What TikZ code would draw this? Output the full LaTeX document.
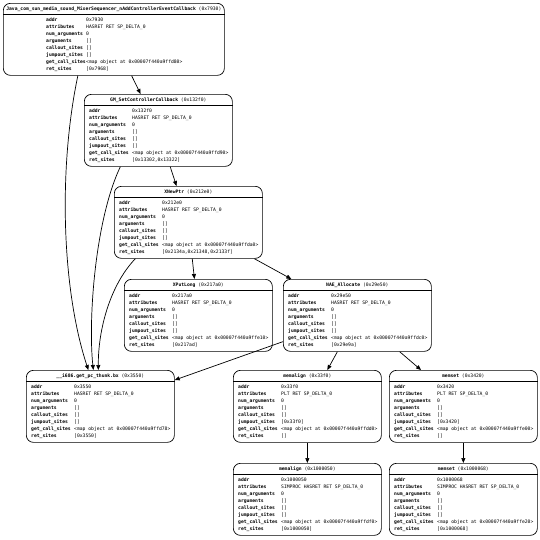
\documentclass[tikz,border=0pt]{standalone}
\usepackage{fontspec}
\setmonofont{DejaVu Sans Mono}
\usetikzlibrary{calc,arrows.meta}
\tikzset{
  fbox/.style={draw, line width=0.7pt, rounded corners=7pt, minimum height=72pt, inner sep=0pt},
  ftitle/.style={inner sep=0pt, font=\ttfamily\fontsize{4.7}{7}\selectfont},
  ftable/.style={inner sep=0pt, font=\ttfamily\fontsize{4.7}{7}\selectfont},
  fsep/.style={line width=0.6pt},
  call/.style={line width=0.7pt, -{Triangle[length=5pt,width=4pt]}},
}
\newcommand\lx{5}
\newcommand\lw{43pt}
\newcommand\funcbox[6]{%
  \node[fbox, minimum width=#4pt, anchor=north west] (#1) at (#2,#3) {};
  \node[ftitle] (#1-t) at ($(#1.north)+(0,6)$) {\textbf{#5} (#6)};
  \draw[fsep] ($(#1.north west)+(0,11)$) -- ($(#1.north east)+(0,11)$);
}
\newcommand\funcrows[9]{%
  \node[ftable, anchor=north west] (#1-r) at ($(#1.north west)+(\lx,13.6)$) {%
    \begin{tabular}{@{}p{\lw}@{}l@{}}
      \textbf{addr} & #2\\
      \textbf{attributes} & #3\\
      \textbf{num\_arguments} & #4\\
      \textbf{arguments} & #5\\
      \textbf{callout\_sites} & #6\\
      \textbf{jumpout\_sites} & #7\\
      \textbf{get\_call\_sites} & #8\\
      \textbf{ret\_sites} & #9
    \end{tabular}};
}
\begin{document}
\begin{tikzpicture}[x=1pt,y=-1pt]
\useasboundingbox[fill=white] (0,0) rectangle (540,539);

% top function
\funcbox{jav}{3}{3}{221}{Java\_com\_sun\_media\_sound\_MixerSequencer\_nAddControllerEventCallback}{0x7930}
\renewcommand\lx{43}\renewcommand\lw{40pt}
\funcrows{jav}{0x7930}{HASRET RET SP\_DELTA\_0}{0}{[]}{[]}{[]}{<map object at 0x00007f440a9ffd80>}{[0x7968]}
\renewcommand\lx{5}\renewcommand\lw{43pt}

\funcbox{gm}{84}{94}{148}{GM\_SetControllerCallback}{0x132f0}
\funcrows{gm}{0x132f0}{HASRET RET SP\_DELTA\_0}{0}{[]}{[]}{[]}{<map object at 0x00007f440a9ffd90>}{[0x13302,0x13322]}

\funcbox{xnp}{114}{186}{148}{XNewPtr}{0x212e0}
\funcrows{xnp}{0x212e0}{HASRET RET SP\_DELTA\_0}{0}{[]}{[]}{[]}{<map object at 0x00007f440a9ffda0>}{[0x2134a,0x21348,0x2133f]}

\funcbox{xpl}{124}{279}{148}{XPutLong}{0x217a0}
\funcrows{xpl}{0x217a0}{HASRET RET SP\_DELTA\_0}{0}{[]}{[]}{[]}{<map object at 0x00007f440a9ffe10>}{[0x217ad]}

\funcbox{nae}{283}{279}{148}{NAE\_Allocate}{0x29e50}
\funcrows{nae}{0x29e50}{HASRET RET SP\_DELTA\_0}{0}{[]}{[]}{[]}{<map object at 0x00007f440a9ffdc0>}{[0x29e9a]}

\funcbox{thk}{26}{370}{148}{\_\_i686.get\_pc\_thunk.bx}{0x3550}
\funcrows{thk}{0x3550}{HASRET RET SP\_DELTA\_0}{0}{[]}{[]}{[]}{<map object at 0x00007f440a9ffd78>}{[0x3550]}

\funcbox{mal}{233}{370}{148}{memalign}{0x33f0}
\funcrows{mal}{0x33f0}{PLT RET SP\_DELTA\_0}{0}{[]}{[]}{[0x33f0]}{<map object at 0x00007f440a9ffdd0>}{[]}

\funcbox{mst}{389}{370}{148}{memset}{0x3420}
\funcrows{mst}{0x3420}{PLT RET SP\_DELTA\_0}{0}{[]}{[]}{[0x3420]}{<map object at 0x00007f440a9ffe00>}{[]}

\funcbox{mal2}{233}{463}{148}{memalign}{0x1000050}
\funcrows{mal2}{0x1000050}{SIMPROC HASRET RET SP\_DELTA\_0}{0}{[]}{[]}{[]}{<map object at 0x00007f440a9ffdf0>}{[0x1000050]}

\funcbox{mst2}{389}{463}{148}{memset}{0x1000068}
\funcrows{mst2}{0x1000068}{SIMPROC HASRET RET SP\_DELTA\_0}{0}{[]}{[]}{[]}{<map object at 0x00007f440a9ffe20>}{[0x1000068]}

% straight call edges
\draw[call] (jav) -- (gm);
\draw[call] (gm) -- (xnp);
\draw[call] (xnp) -- (xpl);
\draw[call] (xnp) -- (nae);
\draw[call] (nae) -- (thk);
\draw[call] (nae) -- (mal);
\draw[call] (nae) -- (mst);
\draw[call] (mal) -- (mal2);
\draw[call] (mst) -- (mst2);

% curved edges to the thunk
\draw[call] ([xshift=-36pt]jav.south) .. controls (58,170) and (62,290) .. ([xshift=-12pt]thk.north);
\draw[call] ([xshift=-38pt]gm.south) .. controls (95,220) and (88,320) .. ([xshift=-7pt]thk.north);
\draw[call] ([xshift=-53pt]xnp.south) .. controls (110,285) and (98,330) .. ([xshift=-2pt]thk.north);
\end{tikzpicture}
\end{document}
